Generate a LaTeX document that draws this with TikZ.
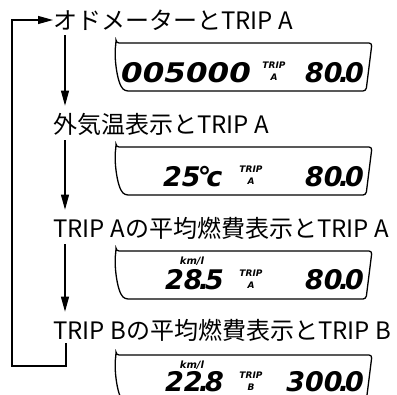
\documentclass[tikz,border=0pt]{standalone}
\usepackage{fontspec}
\setmainfont{Noto Sans CJK JP}
\newfontfamily\lcdfont{DejaVu Sans}
\usetikzlibrary{positioning, arrows.meta}

\begin{document}
\begin{tikzpicture}[
  x=1pt, y=-1pt,
  label/.style = {anchor=west, inner sep=0pt, font=\fontsize{24}{24}\selectfont},
  lcd/.style = {inner sep=0pt, anchor=base west, font=\lcdfont\bfseries\itshape\fontsize{27}{27}\selectfont},
  lcdsmall/.style = {inner sep=0pt, align=center, font=\lcdfont\bfseries\itshape\fontsize{9}{12}\selectfont},
  unit/.style = {inner sep=0pt, font=\lcdfont\bfseries\itshape\fontsize{10}{10}\selectfont},
  frame/.style = {line width=1.3pt, rounded corners=3pt},
  arrow/.style = {-{Triangle[length=15pt,width=8pt]}, line width=1.1pt}
  ]

\clip (0,0) rectangle (397,395);

\node[label] (odo) at (53,20) {オドメーターとTRIP A};
\node[label] (temp) at (53,124) {外気温表示とTRIP A};
\node[label] (avga) at (53,228) {TRIP Aの平均燃費表示とTRIP A};
\node[label] (avgb) at (53,330) {TRIP Bの平均燃費表示とTRIP B};

% display frames
\foreach \t in {43,147,251,355}
  \draw[frame] (116,\t) -- (372,\t) -- (366,\t+48) -- (125,\t+48)
    .. controls (117,\t+40) and (114,\t+14) .. cycle;

% odometer display
\node[lcd, xscale=1.15] (odoval) at (121,83) {005000};
\node[lcdsmall] (odotrip) at (274,71) {TRIP\\A};
\node[lcd, anchor=base east] (odotripval) at (364,83) {80\kern-4pt.\kern-4pt0};

% temperature display
\node[lcd] (tempval) at (163,187) {25\kern-3pt°\kern-5pt c};
\node[lcdsmall] (temptrip) at (251,175) {TRIP\\A};
\node[lcd, anchor=base east] (temptripval) at (364,187) {80\kern-4pt.\kern-4pt0};

% average TRIP A display
\node[unit] (avgaunit) at (192,261) {km/l};
\node[lcd] (avgaval) at (165,290) {28\kern-4pt.\kern-4pt5};
\node[lcdsmall] (avgatrip) at (251,279) {TRIP\\A};
\node[lcd, anchor=base east] (avgatripval) at (364,290) {80\kern-4pt.\kern-4pt0};

% average TRIP B display
\node[unit] (avgbunit) at (192,365) {km/l};
\node[lcd] (avgbval) at (165,392) {22\kern-4pt.\kern-4pt8};
\node[lcdsmall] (avgbtrip) at (251,381) {TRIP\\B};
\node[lcd, anchor=base east] (avgbtripval) at (364,392) {300\kern-4pt.\kern-4pt0};

% flow
\draw[arrow] ([xshift=12pt,yshift=-5pt]odo.south west) -- ([xshift=12pt,yshift=7pt]temp.north west);
\draw[arrow] ([xshift=12pt,yshift=-5pt]temp.south west) -- ([xshift=12pt,yshift=7pt]avga.north west);
\draw[arrow] ([xshift=12pt,yshift=-5pt]avga.south west) -- ([xshift=12pt,yshift=7pt]avgb.north west);

\coordinate (loopcorner) at (12,366);
\draw[arrow] ([xshift=13pt,yshift=-2pt]avgb.south west) |- (loopcorner) |- (odo.west);

\end{tikzpicture}
\end{document}
